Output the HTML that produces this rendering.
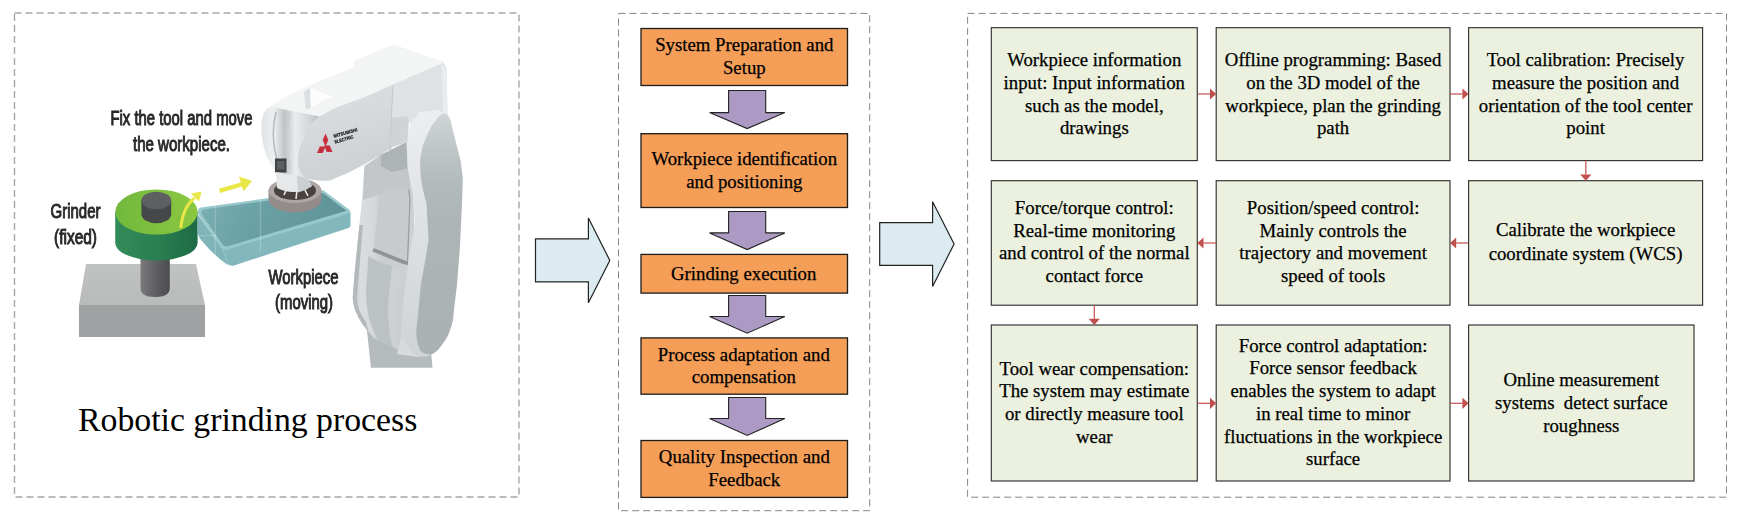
<!DOCTYPE html>
<html><head><meta charset="utf-8"><title>Robotic grinding process</title>
<style>
html,body{margin:0;padding:0;background:#fff;}
body{width:1742px;height:521px;overflow:hidden;}
svg{display:block}
.t{font-family:"Liberation Serif",serif;text-anchor:middle;fill:#000;stroke:#000;stroke-width:0.25;white-space:pre}
.tl{font-family:"Liberation Serif",serif;fill:#000}
.s{font-family:"Liberation Sans",sans-serif;fill:#262626;stroke:#2a2a2a;stroke-width:1.0;text-anchor:middle}
</style></head><body>
<svg width="1742" height="521" viewBox="0 0 1742 521">
<rect width="1742" height="521" fill="#fff"/>
<defs>
<filter id="soft" x="-5%" y="-5%" width="110%" height="110%"><feGaussianBlur stdDeviation="0.75"/></filter>
<filter id="soft2" x="-5%" y="-5%" width="110%" height="110%"><feGaussianBlur stdDeviation="0.7"/></filter>
<linearGradient id="gFace" gradientUnits="userSpaceOnUse" x1="0" y1="112" x2="0" y2="356"><stop offset="0" stop-color="#d0d5d7"/><stop offset="0.15" stop-color="#bfc6c8"/><stop offset="0.3" stop-color="#b3babc"/><stop offset="0.45" stop-color="#aeb5b7"/><stop offset="1" stop-color="#aab1b3"/></linearGradient>
<linearGradient id="gSide" x1="0" y1="0" x2="0.3" y2="1"><stop offset="0" stop-color="#dee1e3"/><stop offset="1" stop-color="#cdd1d4"/></linearGradient>
<linearGradient id="gInner" x1="0" y1="0" x2="1" y2="0"><stop offset="0" stop-color="#c6cacc"/><stop offset="0.12" stop-color="#dadddf"/><stop offset="0.3" stop-color="#d6d9db"/><stop offset="0.45" stop-color="#c9cdcf"/><stop offset="1" stop-color="#cdd1d3"/></linearGradient>
<linearGradient id="gWrist" x1="0" y1="0" x2="1" y2="0"><stop offset="0" stop-color="#dfe2e4"/><stop offset="0.22" stop-color="#eef0f1"/><stop offset="0.4" stop-color="#bfc3c6"/><stop offset="0.58" stop-color="#e9ebec"/><stop offset="0.82" stop-color="#d4d7da"/><stop offset="1" stop-color="#b9bdc0"/></linearGradient>
<linearGradient id="gGreenSide" x1="0" y1="0" x2="1" y2="0"><stop offset="0" stop-color="#338b59"/><stop offset="0.5" stop-color="#2a7f51"/><stop offset="1" stop-color="#1e6b44"/></linearGradient>
<linearGradient id="gGreenTop" x1="0" y1="0" x2="1" y2="0"><stop offset="0" stop-color="#70b93d"/><stop offset="1" stop-color="#8cc740"/></linearGradient>
<linearGradient id="gShaft" x1="0" y1="0" x2="1" y2="0"><stop offset="0" stop-color="#7a7b7d"/><stop offset="0.5" stop-color="#5f6062"/><stop offset="1" stop-color="#4c4d4f"/></linearGradient>
<linearGradient id="gBlockTop" x1="0" y1="0" x2="0" y2="1"><stop offset="0" stop-color="#c1c3c3"/><stop offset="1" stop-color="#b9bbbb"/></linearGradient>
<linearGradient id="gSlabTop" x1="0" y1="0" x2="1" y2="0.2"><stop offset="0" stop-color="#7bb0b4"/><stop offset="0.4" stop-color="#6ba2a6"/><stop offset="1" stop-color="#5f9397"/></linearGradient>
<linearGradient id="gBevel" x1="0" y1="0" x2="0" y2="1"><stop offset="0" stop-color="#eceeef"/><stop offset="0.4" stop-color="#e0e3e4"/><stop offset="1" stop-color="#cfd3d4"/></linearGradient>
</defs>
<g filter="url(#soft)">
<!-- gray block -->
<polygon points="86,264 196,264 205,305 79,305" fill="url(#gBlockTop)"/>
<rect x="79" y="305" width="126" height="32" fill="#9fa1a3"/>
<!-- shaft -->
<path d="M140.5,250 L169.8,250 L169.8,288 Q169.8,297 155,297 Q140.5,297 140.5,288 Z" fill="url(#gShaft)"/>
<!-- green disc -->
<path d="M115.2,212 L115.2,243 A41.2,17.5 0 0 0 197.6,243 L197.6,212 Z" fill="url(#gGreenSide)"/>
<ellipse cx="156.4" cy="212" rx="41.2" ry="22.6" fill="url(#gGreenTop)"/>
<!-- knob -->
<path d="M141.4,200.5 L141.4,214 A14.9,9.3 0 0 0 171.2,214 L171.2,200.5 Z" fill="#454648"/>
<ellipse cx="156.3" cy="200.5" rx="14.9" ry="8.8" fill="#5d5e60"/>
<!-- workpiece slab -->
<path d="M197.5,214 L222,248 L228.5,265.5 Q214,256 199.5,238 Q197.5,234 197.5,230 Z" fill="#7fb5b9"/>
<path d="M222,248 L350.5,212 L350.5,225 Q350.5,227.5 347,228.5 L234,265.5 Q230,266.5 228,264 Z" fill="#82b8bc"/>
<path d="M201,207.5 L323.5,190.5 L349,209.5 Q351.5,212.5 348,213.8 L227,249.5 Q223.5,250.5 221,247 L198.5,214.5 Q196.5,208.7 201,207.5 Z" fill="#97c8cb"/>
<path d="M203.5,209.5 L323,193 L346.5,210.7 L227,246.5 Q224.5,247 223,245 L201.5,214 Q200.5,210.2 203.5,209.5 Z" fill="url(#gSlabTop)"/>
<line x1="215.2" y1="206" x2="215.2" y2="258" stroke="#ffffff" stroke-opacity="0.35" stroke-width="0.8"/>
<line x1="260.3" y1="198" x2="260.3" y2="252" stroke="#ffffff" stroke-opacity="0.35" stroke-width="0.8"/>
<line x1="198" y1="235.7" x2="216" y2="235.7" stroke="#ffffff" stroke-opacity="0.3" stroke-width="0.8"/>
<!-- yellow arrows -->
<path d="M180.8,228 Q183,207 194.5,198" fill="none" stroke="#e9e747" stroke-width="3"/>
<polygon points="191,193.5 201.5,191.5 199,201.5" fill="#e9e747"/>
<line x1="219.5" y1="190.8" x2="243" y2="184" stroke="#e9e747" stroke-width="4.4"/>
<polygon points="239,176.5 252,181 243.5,191.5" fill="#e9e747"/>

<!-- ROBOT -->
<!-- base column -->
<polygon points="366,322 371,367.8 432.5,367.8 431,352 420,330" fill="#b5babc"/>
<!-- inner body -->
<path d="M364.4,166 L412,150 L418,335 Q410,352 398,350 L374,338 L371,334.7 L363,325 Q353,310 352.7,298 L354.6,273 L359.4,225 L362,200 Z" fill="url(#gInner)"/>
<polygon points="380.7,181 407.6,178 410,200 407.5,262 373.8,248" fill="#c7cbcd"/>
<path d="M380.7,181 L407.6,178 L410,200 L407.5,262" fill="none" stroke="#979c9e" stroke-width="1.2"/>
<polygon points="389,167 398,165 399,180 390,181" fill="#e4e6e7"/>
<path d="M373.7,248 L404.8,260.6 L408,262 L408,265 L403,264 L372.5,251.5 Z" fill="#8f9496"/>
<path d="M368.5,256 Q382,266 402,267 L396,300 Q392,330 398,350 L378,340 Q366,320 366,290 Z" fill="#bcc1c3"/>
<path d="M392,266 L402,267 L397,300 Q393,330 398,350 L392,346 Q386,320 389,295 Z" fill="#cdd1d3"/>
<path d="M359.4,225 L354.6,273 L352.7,298 Q353,310 363,325 L371,334.7 L372,345 L366,322 Q357,310 357,298 L359,273 L363,225 Z" fill="#b4babc"/>
<!-- shadow under elbow -->
<polygon points="364.4,166 380.6,155 407.6,141.5 410,190 398,186 375,196 363,200" fill="#c3c7c9"/>
<polygon points="380.6,155 407.6,141.5 408,168.5 392,172 381,166" fill="#aeb3b5"/>
<!-- upper arm bevel -->
<path d="M435.5,109.4 L447,112 L440,230 L430,356 L418.8,357 L397,354 L401,335 L403.5,300 L410,250 L415,225 L413,195 L407.5,167.7 L406.5,141.8 L410.9,121 Q414,114 420,112 Z" fill="url(#gBevel)"/>
<polygon points="397,354 401.5,338 412,352 418.8,357" fill="#d8dbdc"/>
<!-- upper arm front face -->
<path d="M446,113 Q449,116 450.5,120 L453,130.7 L456.8,146 L460.7,161 L462.8,178 L462.3,195 L461.7,210 L460,246 L457,285 L454.5,305 L453,320 Q450.5,331 446.4,338.5 Q442,345 438.3,349.6 Q434,354 430.2,354.7 Q423,354 420.2,350.6 Q417,344 416.5,336.5 Q416,328 417.5,320 L421,283 L425,262 L428.5,240 L427.7,224.7 L426.5,204 L423,190 L420.7,177 L420,161 L422.5,146 L429,131 Q432,124.5 436,120 Q441,113 446,113 Z" fill="url(#gFace)"/>
<!-- elbow box -->
<polygon points="393,83 443.7,62.6 446.6,68.4 447.5,114.5 438,110 420,112 409,124 407.6,141.5 392,147.6 388.6,152" fill="#dfe2e4"/>
<polygon points="391,118 408.5,116 407.6,141.5 392,147.6 389,150" fill="#d0d4d6"/>
<polygon points="441,64 446.6,68.4 447.5,114.5 443,112.5" fill="#e9ebec"/>
<!-- forearm top face -->
<polygon points="266.5,109 283.8,97.6 312.6,84 353.4,67.5 353.4,60.7 393.8,44.4 443.7,61.7 443.7,62.6 393,84.5 330,118 300,140 273,116" fill="#f3f4f4"/>
<polygon points="304,92 310,88 311,107 306,110" fill="#dcdfe1"/>
<polygon points="310,88 332.5,96.6 311,107" fill="#fdfdfd"/>
<!-- forearm side face -->
<path d="M393,84.5 L365,96.9 L336.8,107.3 L319.5,116.5 Q310,123 305.7,133.7 Q297,150 297.5,162 Q298,172 305,178 Q315,181.5 330,180.5 L350,172 L365,164 L380.6,155 L392,147.6 L388.6,152 Z" fill="url(#gSide)"/>
<line x1="393" y1="85" x2="389.5" y2="149" stroke="#c3c7ca" stroke-width="1"/>
<!-- wrist -->
<path d="M261.2,128 Q261.5,114 266.5,109 L272,107 L319.5,116.5 Q310,123 305.7,133.7 Q297,150 297.5,162 Q298,172 305,178 L280,175 Q262.5,160 261.2,128 Z" fill="url(#gWrist)"/>
<path d="M276,112 Q270,135 277,160" fill="none" stroke="#b7bbbf" stroke-width="1.6"/>
<path d="M290,113 Q283,140 290,170" fill="none" stroke="#c9cdd0" stroke-width="2"/>
<rect x="275" y="158.5" width="11.5" height="14" fill="#424345"/>
<rect x="277" y="161" width="7.5" height="8.5" fill="#5c5e61"/>
<!-- flange -->
<path d="M268.5,190 L268.5,199 A26.5,13.5 0 0 0 321.5,199 L321.5,190 Z" fill="#948b8b"/>
<ellipse cx="295" cy="190.5" rx="26.5" ry="12.5" fill="#aea6a6"/>
<ellipse cx="295" cy="190.5" rx="21" ry="9.5" fill="#4a4341"/>
<path d="M284,195 L287,188 M296,199 L297,190 M308,196 L304,188" stroke="#e8e8e8" stroke-width="1.6" fill="none"/>
<path d="M276,172 L307,178 L312,186 Q295,197 277,188 Z" fill="#e6e8e9"/>
<path d="M297,176 L307,178 L312,186 Q305,191 298,192.5 Z" fill="#cdd0d3"/>
<!-- logo -->
<polygon points="325.5,133.5 328.3,140 325.5,146.5 322.7,140" fill="#c62f3b"/>
<polygon points="325.5,146.5 322.7,153 317,153 319.8,146.5" fill="#c62f3b"/>
<polygon points="325.5,146.5 331.2,146.5 334,153 328.3,153" fill="#c62f3b" transform="translate(-1.5,-1)"/>
</g>
<g filter="url(#soft2)">
<text class="s" x="181.5" y="125" font-size="19.5" textLength="142" lengthAdjust="spacingAndGlyphs">Fix the tool and move</text>
<text class="s" x="181.5" y="150.5" font-size="19.5" textLength="97" lengthAdjust="spacingAndGlyphs">the workpiece.</text>
<text class="s" x="75.5" y="218" font-size="19.5" textLength="50" lengthAdjust="spacingAndGlyphs">Grinder</text>
<text class="s" x="75.5" y="244" font-size="19.5" textLength="43" lengthAdjust="spacingAndGlyphs">(fixed)</text>
<text class="s" x="303.5" y="284" font-size="19.5" textLength="70" lengthAdjust="spacingAndGlyphs">Workpiece</text>
<text class="s" x="304" y="309" font-size="19.5" textLength="58" lengthAdjust="spacingAndGlyphs">(moving)</text>
<text class="s" x="334" y="137.8" font-size="4.6" font-weight="bold" transform="rotate(-16 334 137.8)" style="fill:#1a1a1a;stroke-width:0.25;text-anchor:start" textLength="24.5" lengthAdjust="spacingAndGlyphs">MITSUBISHI</text>
<text class="s" x="335" y="143.6" font-size="4.6" font-weight="bold" transform="rotate(-16 335 143.6)" style="fill:#1a1a1a;stroke-width:0.25;text-anchor:start" textLength="19.5" lengthAdjust="spacingAndGlyphs">ELECTRIC</text>
</g>

<rect x="14.5" y="13" width="504.50" height="484.00" fill="none" stroke="#a6a6a6" stroke-width="1.4" stroke-dasharray="7 4"/>
<rect x="618.5" y="13.4" width="251.20" height="497.30" fill="none" stroke="#858585" stroke-width="1.0" stroke-dasharray="7 4"/>
<rect x="967.6" y="13.4" width="758.90" height="483.80" fill="none" stroke="#858585" stroke-width="1.0" stroke-dasharray="7 4"/>
<polygon points="535.5,238.9 588.4,238.9 588.4,217.9 609.8,260.4 588.4,302.8 588.4,281.8 535.5,281.8" fill="#dbebf1" stroke="#222" stroke-width="1.2" stroke-linejoin="miter"/>
<polygon points="879.7,222.7 932.6,222.7 932.6,201.7 954.1,243.9 932.6,286.5 932.6,265.3 879.7,265.3" fill="#dbebf1" stroke="#222" stroke-width="1.2" stroke-linejoin="miter"/>
<rect x="641" y="28.5" width="206.50" height="57.00" fill="#f59e58" stroke="#1c1c1c" stroke-width="1.3"/>
<rect x="641" y="133.7" width="206.50" height="73.80" fill="#f59e58" stroke="#1c1c1c" stroke-width="1.3"/>
<rect x="641" y="254.4" width="206.50" height="38.70" fill="#f59e58" stroke="#1c1c1c" stroke-width="1.3"/>
<rect x="641" y="337.9" width="206.50" height="56.30" fill="#f59e58" stroke="#1c1c1c" stroke-width="1.3"/>
<rect x="641" y="440.5" width="206.50" height="56.90" fill="#f59e58" stroke="#1c1c1c" stroke-width="1.3"/>
<polygon points="728.6,90.5 765.7,90.5 765.7,112.6 784.8,112.6 747.2,128.6 709.6,112.6 728.6,112.6" fill="#ac9ac4" stroke="#222" stroke-width="1.1"/>
<polygon points="728.6,211.5 765.7,211.5 765.7,232.9 784.8,232.9 747.2,249.6 709.6,232.9 728.6,232.9" fill="#ac9ac4" stroke="#222" stroke-width="1.1"/>
<polygon points="728.6,295.5 765.7,295.5 765.7,316.5 784.8,316.5 747.2,333.2 709.6,316.5 728.6,316.5" fill="#ac9ac4" stroke="#222" stroke-width="1.1"/>
<polygon points="728.6,397.5 765.7,397.5 765.7,418.5 784.8,418.5 747.2,435.5 709.6,418.5 728.6,418.5" fill="#ac9ac4" stroke="#222" stroke-width="1.1"/>
<text class="t" x="744.3" y="51.1" font-size="18.78">System Preparation and</text>
<text class="t" x="744.3" y="73.5" font-size="18.78">Setup</text>
<text class="t" x="744.3" y="165.4" font-size="18.78">Workpiece identification</text>
<text class="t" x="744.3" y="187.8" font-size="18.78">and positioning</text>
<text class="t" x="743.6999999999999" y="280.3" font-size="18.78">Grinding execution</text>
<text class="t" x="743.8" y="361.3" font-size="18.78">Process adaptation and</text>
<text class="t" x="743.8" y="383.3" font-size="18.78">compensation</text>
<text class="t" x="744.3" y="463.3" font-size="18.78">Quality Inspection and</text>
<text class="t" x="744.3" y="486" font-size="18.78">Feedback</text>
<rect x="991.3" y="27.7" width="206.00" height="132.90" fill="#ebf1de" stroke="#303030" stroke-width="1.15"/>
<rect x="991.3" y="180.7" width="206.00" height="124.50" fill="#ebf1de" stroke="#303030" stroke-width="1.15"/>
<rect x="1216.2" y="27.7" width="233.80" height="132.90" fill="#ebf1de" stroke="#303030" stroke-width="1.15"/>
<rect x="1216.2" y="180.7" width="233.80" height="124.50" fill="#ebf1de" stroke="#303030" stroke-width="1.15"/>
<rect x="1468.6" y="27.7" width="234.00" height="132.90" fill="#ebf1de" stroke="#303030" stroke-width="1.15"/>
<rect x="1468.6" y="180.7" width="234.00" height="124.50" fill="#ebf1de" stroke="#303030" stroke-width="1.15"/>
<rect x="991.3" y="325" width="206.00" height="156.00" fill="#ebf1de" stroke="#303030" stroke-width="1.15"/>
<rect x="1216.2" y="325" width="233.80" height="156.00" fill="#ebf1de" stroke="#303030" stroke-width="1.15"/>
<rect x="1468.6" y="325" width="225.40" height="156.00" fill="#ebf1de" stroke="#303030" stroke-width="1.15"/>
<line x1="1197.3" y1="94" x2="1210.0" y2="94" stroke="#c0504d" stroke-width="1.2"/><polygon points="1210.0,88.4 1216.2,94 1210.0,99.6" fill="#c0504d"/>
<line x1="1450" y1="94" x2="1462.3999999999999" y2="94" stroke="#c0504d" stroke-width="1.2"/><polygon points="1462.3999999999999,88.4 1468.6,94 1462.3999999999999,99.6" fill="#c0504d"/>
<line x1="1585.8" y1="160.6" x2="1585.8" y2="174.5" stroke="#c0504d" stroke-width="1.2"/><polygon points="1580.2,174.5 1585.8,180.7 1591.3999999999999,174.5" fill="#c0504d"/>
<line x1="1468.6" y1="243" x2="1456.2" y2="243" stroke="#c0504d" stroke-width="1.2"/><polygon points="1456.2,237.4 1450,243 1456.2,248.6" fill="#c0504d"/>
<line x1="1216.2" y1="243" x2="1203.5" y2="243" stroke="#c0504d" stroke-width="1.2"/><polygon points="1203.5,237.4 1197.3,243 1203.5,248.6" fill="#c0504d"/>
<line x1="1094.3" y1="305.2" x2="1094.3" y2="318.8" stroke="#c0504d" stroke-width="1.2"/><polygon points="1088.7,318.8 1094.3,325 1099.8999999999999,318.8" fill="#c0504d"/>
<line x1="1197.3" y1="403.3" x2="1210.0" y2="403.3" stroke="#c0504d" stroke-width="1.2"/><polygon points="1210.0,397.7 1216.2,403.3 1210.0,408.90000000000003" fill="#c0504d"/>
<line x1="1450" y1="403.3" x2="1462.3999999999999" y2="403.3" stroke="#c0504d" stroke-width="1.2"/><polygon points="1462.3999999999999,397.7 1468.6,403.3 1462.3999999999999,408.90000000000003" fill="#c0504d"/>
<text class="t" x="1094.3" y="66.1" font-size="18.78">Workpiece information</text>
<text class="t" x="1094.3" y="88.8" font-size="18.78">input: Input information</text>
<text class="t" x="1094.3" y="111.5" font-size="18.78">such as the model,</text>
<text class="t" x="1094.3" y="134.2" font-size="18.78">drawings</text>
<text class="t" x="1333.1" y="66.1" font-size="18.78">Offline programming: Based</text>
<text class="t" x="1333.1" y="88.8" font-size="18.78">on the 3D model of the</text>
<text class="t" x="1333.1" y="111.5" font-size="18.78">workpiece, plan the grinding</text>
<text class="t" x="1333.1" y="134.2" font-size="18.78">path</text>
<text class="t" x="1585.6" y="66.1" font-size="18.78">Tool calibration: Precisely</text>
<text class="t" x="1585.6" y="88.8" font-size="18.78">measure the position and</text>
<text class="t" x="1585.6" y="111.5" font-size="18.78">orientation of the tool center</text>
<text class="t" x="1585.6" y="134.2" font-size="18.78">point</text>
<text class="t" x="1094.3" y="213.6" font-size="18.78">Force/torque control:</text>
<text class="t" x="1094.3" y="236.5" font-size="18.78">Real-time monitoring</text>
<text class="t" x="1094.3" y="259.4" font-size="18.78">and control of the normal</text>
<text class="t" x="1094.3" y="282.3" font-size="18.78">contact force</text>
<text class="t" x="1333.1" y="213.6" font-size="18.78">Position/speed control:</text>
<text class="t" x="1333.1" y="236.5" font-size="18.78">Mainly controls the</text>
<text class="t" x="1333.1" y="259.4" font-size="18.78">trajectory and movement</text>
<text class="t" x="1333.1" y="282.3" font-size="18.78">speed of tools</text>
<text class="t" x="1585.6" y="236.4" font-size="18.78">Calibrate the workpiece</text>
<text class="t" x="1585.6" y="259.6" font-size="18.78">coordinate system (WCS)</text>
<text class="t" x="1094.3" y="374.5" font-size="18.78">Tool wear compensation:</text>
<text class="t" x="1094.3" y="397.2" font-size="18.78">The system may estimate</text>
<text class="t" x="1094.3" y="419.9" font-size="18.78">or directly measure tool</text>
<text class="t" x="1094.3" y="442.8" font-size="18.78">wear</text>
<text class="t" x="1333.1" y="351.5" font-size="18.78">Force control adaptation:</text>
<text class="t" x="1333.1" y="374.3" font-size="18.78">Force sensor feedback</text>
<text class="t" x="1333.1" y="397" font-size="18.78">enables the system to adapt</text>
<text class="t" x="1333.1" y="419.8" font-size="18.78">in real time to minor</text>
<text class="t" x="1333.1" y="442.6" font-size="18.78">fluctuations in the workpiece</text>
<text class="t" x="1333.1" y="465.4" font-size="18.78">surface</text>
<text class="t" x="1581.3" y="386" font-size="18.78">Online measurement</text>
<text class="t" x="1581.3" y="408.9" font-size="18.78">systems  detect surface</text>
<text class="t" x="1581.3" y="431.7" font-size="18.78">roughness</text>
<text class="tl" x="78" y="431" font-size="33.75">Robotic grinding process</text>
</svg>
</body></html>
